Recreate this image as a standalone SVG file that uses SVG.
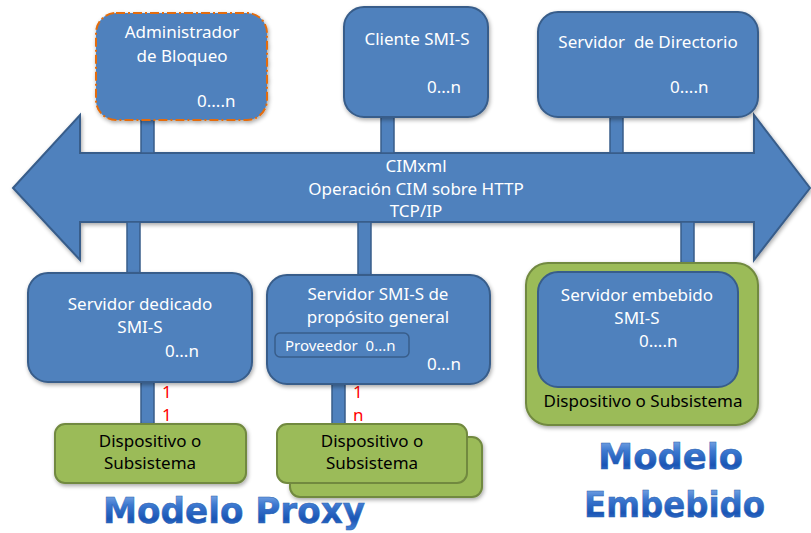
<svg xmlns="http://www.w3.org/2000/svg" width="811" height="533" viewBox="0 0 811 533">
<defs>
<linearGradient id="tg" x1="0" y1="0" x2="0" y2="1">
<stop offset="0" stop-color="#8DB4EA"/>
<stop offset="0.35" stop-color="#3C78D0"/>
<stop offset="0.7" stop-color="#1A55B5"/>
<stop offset="1" stop-color="#4A86DA"/>
</linearGradient>
<filter id="sh" x="-10%" y="-10%" width="130%" height="130%">
<feGaussianBlur in="SourceAlpha" stdDeviation="2"/>
<feOffset dx="1" dy="2" result="o"/>
<feComponentTransfer><feFuncA type="linear" slope="0.35"/></feComponentTransfer>
<feMerge><feMergeNode/><feMergeNode in="SourceGraphic"/></feMerge>
</filter>
</defs>
<style>
.blue{fill:#4F81BD;stroke:#385D8A;stroke-width:2}
.green{fill:#9BBB59;stroke:#71893F;stroke-width:2}
.stem{fill:#4F81BD;stroke:#385D8A;stroke-width:1.5}
.wt{font-family:"Noto Sans","Liberation Sans",sans-serif;font-size:17px;fill:#FFFFFF}
.bt{font-family:"Noto Sans","Liberation Sans",sans-serif;font-size:17px;fill:#000000}
.rt{font-family:"Noto Sans","Liberation Sans",sans-serif;font-size:17px;fill:#FF0000}
.big{font-family:"DejaVu Sans","Liberation Sans",sans-serif;font-weight:bold;font-size:35px;fill:url(#tg);stroke:#2A5FB0;stroke-width:0.5}
</style>
<rect width="811" height="533" fill="#FFFFFF"/>

<g id="bus">
<polygon class="blue" filter="url(#sh)" points="13,188 80,115 80,153 754,153 754,115 810,188 754,260 754,222 80,222 80,260"/>
<text class="wt" x="416" y="172" text-anchor="middle">CIMxml</text>
<text class="wt" x="416" y="195" text-anchor="middle">Operación CIM sobre HTTP</text>
<text class="wt" x="416" y="217" text-anchor="middle">TCP/IP</text>
</g>

<g id="connectors">
<rect class="stem" x="141" y="119" width="13" height="34"/>
<rect class="stem" x="381" y="116" width="13" height="37"/>
<rect class="stem" x="610" y="116" width="13" height="37"/>
<rect class="stem" x="127" y="222" width="13" height="51"/>
<rect class="stem" x="358" y="222" width="13" height="53"/>
<rect class="stem" x="681" y="222" width="13" height="41"/>
<rect class="stem" x="141" y="382" width="13" height="42"/>
<rect class="stem" x="332" y="384" width="13" height="40"/>
<text class="rt" x="162" y="398">1</text>
<text class="rt" x="162" y="421">1</text>
<text class="rt" x="353" y="398">1</text>
<text class="rt" x="353" y="421">n</text>
</g>

<g id="admin">
<rect x="96" y="13" width="171" height="107" rx="20" fill="#4F81BD" stroke="#E46C0A" stroke-width="2" stroke-dasharray="9,3,2,3" filter="url(#sh)"/>
<text class="wt" x="182" y="38" text-anchor="middle">Administrador</text>
<text class="wt" x="182" y="62" text-anchor="middle">de Bloqueo</text>
<text class="wt" x="197" y="107">0....n</text>
</g>

<g id="cliente">
<rect class="blue" filter="url(#sh)" x="344" y="7" width="144" height="110" rx="20"/>
<text class="wt" x="417" y="45" text-anchor="middle">Cliente SMI-S</text>
<text class="wt" x="427" y="93">0...n</text>
</g>

<g id="directorio">
<rect class="blue" filter="url(#sh)" x="538" y="12" width="220" height="105" rx="20"/>
<text class="wt" x="648" y="48" text-anchor="middle" xml:space="preserve">Servidor  de Directorio</text>
<text class="wt" x="670" y="93">0....n</text>
</g>

<g id="dedicado">
<rect class="blue" filter="url(#sh)" x="28" y="273" width="224" height="109" rx="20"/>
<text class="wt" x="140" y="310" text-anchor="middle">Servidor dedicado</text>
<text class="wt" x="140" y="333" text-anchor="middle">SMI-S</text>
<text class="wt" x="165" y="357">0...n</text>
</g>

<g id="general">
<rect class="blue" filter="url(#sh)" x="267" y="275" width="223" height="109" rx="20"/>
<text class="wt" x="378" y="300" text-anchor="middle">Servidor SMI-S de</text>
<text class="wt" x="378" y="323" text-anchor="middle">propósito general</text>
<rect x="275" y="333" width="134" height="24" rx="5" fill="#4F81BD" stroke="#385D8A" stroke-width="1.5"/>
<text class="wt" x="285" y="351" style="font-size:15px" xml:space="preserve">Proveedor  0...n</text>
<text class="wt" x="427" y="370">0...n</text>
</g>

<g id="disp1">
<rect class="green" filter="url(#sh)" x="55" y="424" width="191" height="59" rx="10"/>
<text class="bt" x="150" y="447" text-anchor="middle">Dispositivo o</text>
<text class="bt" x="150" y="469" text-anchor="middle">Subsistema</text>
</g>

<g id="disp2">
<rect class="green" filter="url(#sh)" x="290" y="437" width="192" height="60" rx="10"/>
<rect class="green" x="277" y="424" width="190" height="59" rx="10"/>
<text class="bt" x="372" y="447" text-anchor="middle">Dispositivo o</text>
<text class="bt" x="372" y="469" text-anchor="middle">Subsistema</text>
</g>

<g id="embebido">
<rect class="green" filter="url(#sh)" x="526" y="263" width="232" height="162" rx="22"/>
<rect class="blue" x="538" y="272" width="200" height="115" rx="20"/>
<text class="wt" x="637" y="301" text-anchor="middle">Servidor embebido</text>
<text class="wt" x="637" y="324" text-anchor="middle">SMI-S</text>
<text class="wt" x="639" y="347">0....n</text>
<text class="bt" x="643" y="407" text-anchor="middle">Dispositivo o Subsistema</text>
</g>

<g id="labels">
<text class="big" x="103" y="523" textLength="262" lengthAdjust="spacingAndGlyphs">Modelo Proxy</text>
<text class="big" x="598" y="469" textLength="145" lengthAdjust="spacingAndGlyphs">Modelo</text>
<text class="big" x="584" y="517" textLength="181" lengthAdjust="spacingAndGlyphs">Embebido</text>
</g>
</svg>
